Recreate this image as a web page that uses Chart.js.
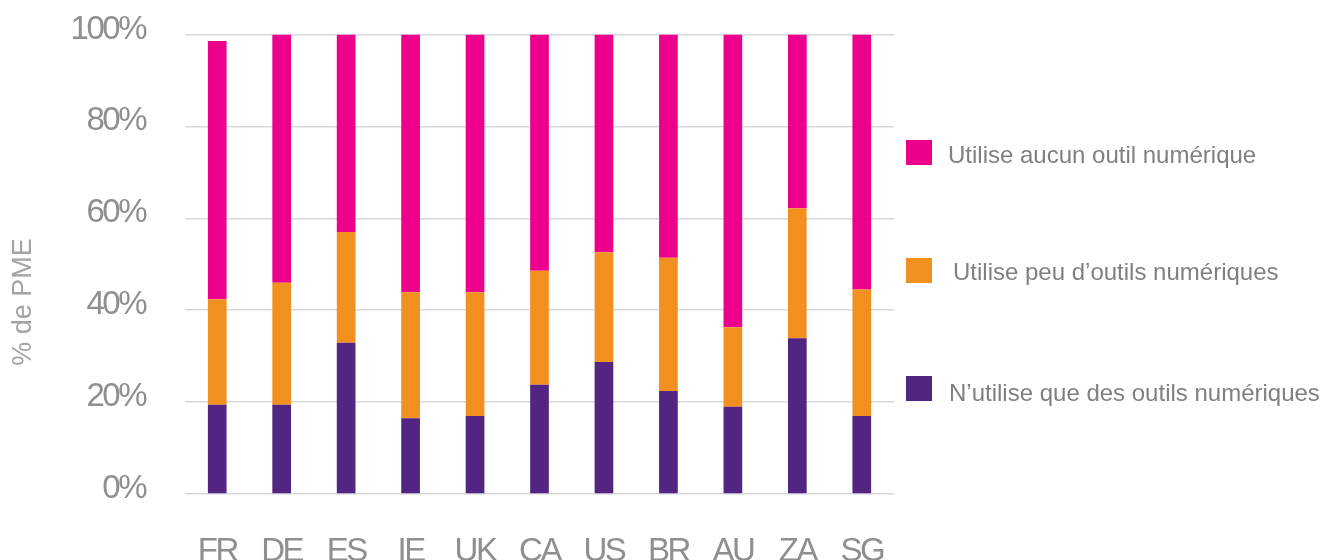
<!DOCTYPE html>
<html>
<head>
<meta charset="utf-8">
<script src="https://cdn.jsdelivr.net/npm/chart.js@4.4.1/dist/chart.umd.min.js"></script>
<style>
  body { margin: 0; background: #fff; }
  #wrap { position: relative; width: 1321px; height: 560px; }
</style>
</head>
<body>
<div id="wrap"><canvas id="graph"></canvas></div>
<script>
/*********************** data ***********************/
const countries = ['FR', 'DE', 'ES', 'IE', 'UK', 'CA', 'US', 'BR', 'AU', 'ZA', 'SG'];
const onlyDigital = [19.4, 19.4, 32.9, 16.5, 17.0, 23.8, 28.7, 22.4, 19.0, 33.9, 17.0];
const fewDigital = [23.0, 26.6, 24.1, 27.4, 26.9, 24.8, 23.9, 29.0, 17.3, 28.3, 27.5];
const noDigital = [56.2, 54.0, 43.0, 56.1, 56.1, 51.4, 47.4, 48.6, 63.7, 37.8, 55.5];
const yTicks = [0, 20, 40, 60, 80, 100];

const labelNo = 'Utilise aucun outil numérique';
const labelFew = 'Utilise peu d\u2019outils numériques';
const labelOnly = 'N\u2019utilise que des outils numériques';

/****************** legend + axis title ******************/
const sidePlugin = {
  id: 'side',
  beforeDraw(chart) {
    chart.ctx.letterSpacing = '-2.5px';
  },
  afterDraw(chart) {
    const ctx = chart.ctx;
    ctx.save();
    ctx.letterSpacing = '0px';
    // y axis title
    ctx.translate(24, 302);
    ctx.rotate(-Math.PI / 2);
    ctx.font = '27px "Liberation Sans", Arial, sans-serif';
    ctx.fillStyle = '#a3a3a8';
    ctx.textAlign = 'center';
    ctx.textBaseline = 'middle';
    ctx.fillText('% de PME', 0, 0);
    ctx.restore();

    // legend, top to bottom: pink, orange, purple
    const rows = [
      {ds: 2, boxY: 140, textX: 948, textY: 156},
      {ds: 1, boxY: 258, textX: 953, textY: 273},
      {ds: 0, boxY: 376, textX: 949, textY: 394}
    ];
    ctx.save();
    ctx.letterSpacing = '0px';
    ctx.font = '24px "Liberation Sans", Arial, sans-serif';
    ctx.textBaseline = 'middle';
    rows.forEach(r => {
      const d = chart.data.datasets[r.ds];
      ctx.fillStyle = d.backgroundColor;
      ctx.fillRect(906, r.boxY, 26, 25);
      ctx.fillStyle = '#808080';
      ctx.fillText(d.label, r.textX, r.textY);
    });
    ctx.restore();
  }
};

/*********************** chart ***********************/
let ctx = document.getElementById('graph');
const graph = new Chart(ctx, {
  type: 'bar',
  data: {
    labels: countries,
    datasets: [{
      label: labelOnly,
      data: onlyDigital,
      backgroundColor: '#522583'
    }, {
      label: labelFew,
      data: fewDigital,
      backgroundColor: '#f2901f'
    }, {
      label: labelNo,
      data: noDigital,
      backgroundColor: '#ec008c'
    }]
  },
  options: {
    responsive: true,
    maintainAspectRatio: false,
    animation: false,
    layout: { padding: { left: 0, right: 427, top: 34.5, bottom: 0 } },
    datasets: {
      bar: { categoryPercentage: 1, barPercentage: 0.29, borderWidth: 0 }
    },
    plugins: {
      legend: { display: false },
      tooltip: { enabled: false }
    },
    scales: {
      x: {
        stacked: true,
        grid: { display: false },
        border: { display: false },
        ticks: {
          autoSkip: false,
          maxRotation: 0,
          padding: 30,
          color: '#8e8e93',
          font: { size: 33, family: '"Liberation Sans", Arial, sans-serif' }
        },
        afterFit(scale) {
          scale.height = 66;
          scale.paddingLeft = 0;
          scale.paddingRight = 0;
        }
      },
      y: {
        stacked: true,
        min: 0,
        max: 100,
        afterBuildTicks(scale) { scale.ticks = yTicks.map(v => ({value: v})); },
        grid: { color: '#d9d9d9', lineWidth: 1.5, drawTicks: false },
        border: { display: false },
        ticks: {
          padding: 40,
          labelOffset: -5,
          color: '#8e8e93',
          font: { size: 33, family: '"Liberation Sans", Arial, sans-serif' },
          callback: v => v + '%'
        },
        afterFit(scale) {
          scale.width = 185;
          scale.paddingTop = 0;
          scale.paddingBottom = 0;
        }
      }
    }
  },
  plugins: [sidePlugin]
});
</script>
</body>
</html>
